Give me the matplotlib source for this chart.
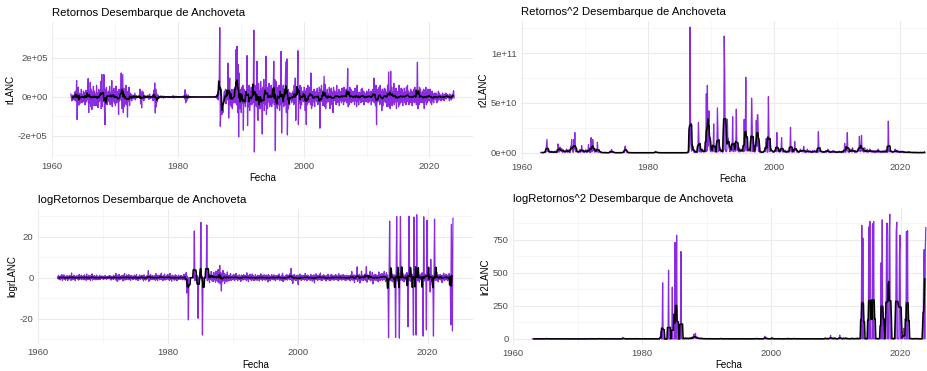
import numpy as np
import pandas as pd
import matplotlib
matplotlib.use("Agg")
import matplotlib.pyplot as plt
from matplotlib.ticker import MultipleLocator, FuncFormatter

plt.rcParams["font.family"] = ["Liberation Sans", "DejaVu Sans"]
plt.rcParams["axes.unicode_minus"] = False

# retornos mensuales del desembarque (en 1e4 t), ene..dic, 1963-2023
rlanc_1e4 = [
    1.5, -0.5, -2.0, 1.0, -1.5, 0.8, -1.0, 2.5, -1.8, 3.0, -2.2, 8.4,      # 1963
    -11.6, 3.5, 5.0, -4.2, 2.0, -3.5, 1.5, -2.0, 4.0, -3.0, 1.2, -2.5,     # 1964
    3.0, -1.5, 2.2, -4.0, 1.0, 3.5, -2.5, 1.8, -1.0, 9.4, -8.0, 2.5,       # 1965
    -3.0, 7.5, -5.0, 4.0, -6.5, 2.5, -2.0, 5.5, -4.5, 3.0, -2.0, 1.5,      # 1966
    -4.5, 6.0, -3.0, 2.0, -5.5, 4.0, -2.5, 3.0, -1.5, 8.0, -6.0, 11.5,     # 1967
    -5.0, 3.5, -2.0, 11.5, -6.0, -14.2, 4.0, -3.0, 5.0, -4.0, 2.5, -1.5,   # 1968
    3.0, -2.5, 5.5, -4.0, 2.0, -3.5, 8.4, -5.0, 3.0, -2.0, 4.5, -3.0,      # 1969
    2.0, -4.5, 5.5, -3.0, 1.5, -2.5, 3.0, -9.0, 4.0, -2.0, 3.5, -1.0,      # 1970
    12.3, -6.0, 3.0, 11.5, -8.0, 4.5, -5.0, 2.0, -3.5, 6.0, -4.0, 2.5,     # 1971
    -10.3, 3.0, -2.0, 5.0, -4.5, 2.0, -1.0, 1.5, -2.0, 1.0, -0.5, 0.8,     # 1972
    -1.0, 0.5, 2.0, -1.5, 0.8, -0.5, 0.3, -0.4, 0.5, -0.3, 0.2, -0.6,      # 1973
    4.0, -3.5, 1.5, -5.6, 3.0, -1.0, 2.5, -2.0, 1.0, -0.8, 0.5, -0.3,      # 1974
    0.5, -0.4, 0.6, -0.5, 0.8, -1.2, 1.5, -0.8, 0.4, -0.6, 0.3, -0.2,      # 1975
    1.0, -2.0, 3.5, -1.5, 7.2, -8.2, 4.0, -5.0, 1.5, -2.5, 1.0, -0.5,      # 1976
    0.3, -0.5, 0.4, -0.2, 0.6, -0.4, 0.2, -0.3, 0.5, -0.6, 0.3, -0.2,      # 1977
    0.2, -0.2, 0.3, -0.1, 0.2, -0.3, 0.1, -0.2, 0.2, -0.1, 0.1, -0.2,      # 1978
    0.3, -0.2, 0.5, -0.4, 0.6, -0.5, 0.2, -0.3, 0.4, -0.2, 0.3, -0.1,      # 1979
    0.2, -0.3, 0.1, -0.1, 0.2, -0.2, 0.1, -0.1, 0.3, -0.2, 0.1, -0.1,      # 1980
    0.5, -1.0, 3.7, -3.0, 1.5, -2.0, 0.8, -0.6, 1.0, -0.5, 0.3, -0.4,      # 1981
    0.2, -0.1, 0.1, -0.2, 0.1, -0.1, 0.05, -0.05, 0.1, -0.1, 0.05, -0.05,  # 1982
    0.02, -0.02, 0.0, 0.0, 0.0, 0.0, 0.0, 0.0, 0.0, 0.0, 0.0, 0.0,         # 1983
    0.0, 0.02, -0.01, 0.01, -0.01, 0.01, -0.01, 0.01, -0.02, 0.0, 0.0, 0.0,  # 1984
    0.0, 0.02, -0.01, 0.01, -0.02, 0.0, 0.0, 0.0, 0.0, 0.0, 0.0, 0.0,      # 1985
    0.1, -0.1, 1.0, -0.8, 2.5, -1.5, 3.5, 9.7, 35.5, -15.0, -8.0, 4.0,     # 1986
    -9.0, -5.0, -8.0, -3.0, 1.5, 3.0, -2.0, 4.0, -3.5, 2.0, -1.5, 3.0,     # 1987
    17.4, -10.8, 3.0, 9.7, -4.0, 2.0, -5.0, 4.0, -6.0, 2.5, -3.0, 4.0,     # 1988
    -3.0, 5.0, -3.0, 24.3, -4.0, 26.0, -8.0, 16.6, -20.5, 12.3, -6.0, 3.0,  # 1989
    4.0, -8.0, 5.0, -3.0, 6.0, -17.0, 4.0, -3.0, 2.5, -5.0, 3.0, -2.0,     # 1990
    21.2, -14.7, 3.0, -5.0, 6.0, -7.0, 3.0, -4.0, 5.0, -4.0, 2.0, -3.0,    # 1991
    5.0, 34.2, -28.2, 6.0, -4.0, 3.0, -5.0, 18.3, -10.0, -12.0, 7.0, -6.0,  # 1992
    3.0, -6.0, 8.0, -5.0, 4.0, -19.0, 5.0, -3.0, 9.0, -7.0, 4.0, -4.0,     # 1993
    20.9, -9.0, 5.0, -6.0, 3.5, -2.5, 7.0, -5.0, 3.0, -4.0, 6.0, -5.0,     # 1994
    4.0, -3.0, 4.0, 18.3, -4.0, 9.0, -27.5, 8.0, -5.0, 4.0, -6.0, 5.0,     # 1995
    -4.0, 6.0, -7.0, 3.0, -4.0, 23.4, -18.5, 4.0, -3.0, 6.0, -5.0, 2.5,    # 1996
    -4.0, 6.0, 18.0, -8.0, 19.5, -19.5, 4.0, -6.0, 2.5, -4.0, 2.0, -1.5,   # 1997
    2.0, -3.0, 1.5, -2.0, 3.0, -4.0, 6.0, -3.0, 9.7, -12.0, 5.0, 2.0,      # 1998
    3.0, 23.7, -14.2, 4.0, -3.0, 6.0, -6.0, 5.0, -4.0, 2.5, -2.0, 3.0,     # 1999
    -2.5, 5.0, 4.0, -7.0, 3.0, -14.2, 4.5, -4.0, 6.0, -3.0, 2.0, -2.5,     # 2000
    5.0, -4.0, 12.3, -6.0, 2.5, -4.5, 3.0, -2.5, 4.0, -5.0, 2.0, -1.5,     # 2001
    3.0, -2.5, 4.5, -4.0, 2.0, -3.0, 5.0, -16.0, 4.0, -2.5, 6.0, -2.0,     # 2002
    3.0, -4.5, 2.5, 10.6, -5.0, 6.5, -6.0, 2.5, -3.0, 4.0, -2.0, 1.5,      # 2003
    -2.5, 5.0, -6.0, 4.0, -3.0, 4.5, -4.0, 2.5, -8.0, 5.0, -2.0, 3.0,      # 2004
    -2.0, 2.5, -4.0, 6.0, -3.0, 2.0, -2.5, 4.0, -4.5, 3.0, -1.5, 2.0,      # 2005
    -3.0, 4.5, -2.0, 2.5, -4.0, 5.0, -2.5, 3.0, -2.0, 4.0, -3.0, 1.5,      # 2006
    14.5, -5.0, 3.0, -4.0, 5.0, -2.5, 4.0, -3.0, 2.0, -2.5, 3.0, -2.0,     # 2007
    2.5, -4.0, 4.5, -2.0, 3.0, -5.0, 6.0, -2.5, 2.0, -4.0, 2.5, -1.5,      # 2008
    2.0, -3.0, 4.0, -2.5, 4.5, -2.0, 3.0, -4.0, 2.5, -2.0, 1.5, -2.5,      # 2009
    3.0, -2.0, 2.5, -3.0, 4.0, -2.5, 2.0, -1.5, 3.0, -4.0, 2.5, -2.0,      # 2010
    4.0, -2.5, 9.7, -3.0, 2.0, -4.5, 6.0, -14.2, 4.0, -2.5, 3.0, -2.0,     # 2011
    5.0, -4.0, 6.0, -3.0, 2.5, -7.0, 4.0, -4.5, 3.0, -2.0, 4.5, -2.5,      # 2012
    4.0, -3.0, 2.5, -5.0, 6.0, -4.0, 12.8, -5.0, 3.0, -6.0, 13.2, -4.0,    # 2013
    5.0, -4.5, 2.5, -3.0, 7.0, -4.0, 3.0, -2.5, 4.5, -6.0, 2.5, -2.0,      # 2014
    3.0, -5.0, 6.0, -4.0, 2.5, -3.0, 4.5, -2.5, 4.0, -4.5, 2.0, -1.5,      # 2015
    4.5, -3.0, 2.5, -4.0, 5.0, -2.0, 6.0, -2.5, 3.0, -4.0, 2.0, -3.0,      # 2016
    4.0, -2.5, 3.0, -4.5, 2.5, -2.0, 4.0, -3.0, 5.0, -2.5, 2.0, -4.0,      # 2017
    2.5, 17.8, -6.0, 3.0, -4.0, 5.0, -2.5, 4.0, -3.0, 2.0, -2.5, 3.0,      # 2018
    -3.0, 4.0, -6.0, 3.0, -2.0, 5.0, -4.0, 2.0, -3.0, 4.0, -2.0, 3.0,      # 2019
    -2.0, 4.0, -3.0, 2.0, -4.0, 3.0, -2.0, 1.5, -3.0, 2.0, -1.0, 2.0,      # 2020
    -1.5, 2.0, -3.0, 1.0, -2.0, 3.0, -1.0, 2.0, -1.5, 1.0, -2.0, 1.0,      # 2021
    -1.0, 2.0, -1.5, 1.0, -2.0, 1.5, -1.0, 2.0, -1.0, 1.5, -0.5, 1.0,      # 2022
    -0.5, 1.0, -2.0, 1.5, -1.0, 0.5, -1.5, 1.0, -0.5, 2.0, 3.2, -0.5,      # 2023
]

# log-retornos mensuales, ene..dic, 1963-2023
logrlanc = [
    0.3, -0.5, 1.2, -0.8, 0.6, -1.1, 0.9, -0.4, 1.5, -1.3, 0.7, -0.6,      # 1963
    1.4, -0.9, 0.5, -1.2, 0.8, -0.3, 1.0, -1.4, 0.6, -0.7, 1.1, -0.5,      # 1964
    0.8, -1.3, 2.3, -1.0, 0.4, -0.8, 1.2, -0.6, 0.9, -1.5, 0.5, -0.3,      # 1965
    1.0, -0.7, 0.6, -1.2, 1.6, -0.9, 0.3, -0.5, 1.3, -1.0, 0.7, -0.4,      # 1966
    0.9, -1.1, 1.4, -0.6, 0.5, -1.3, 1.8, -0.8, 0.4, -0.9, 1.2, -0.7,      # 1967
    0.6, -1.4, 1.1, -0.5, 1.9, -1.2, 0.7, -0.6, 1.0, -0.8, 0.5, -1.1,      # 1968
    1.3, -0.6, 0.8, -1.0, 0.5, -0.7, 1.2, -0.9, 0.6, -0.4, 0.9, -0.5,      # 1969
    0.7, -0.9, 0.5, -0.6, 1.1, -0.5, 0.4, -0.8, 0.6, -0.3, 0.8, -0.6,      # 1970
    1.0, -0.5, 0.9, -1.2, 0.6, -0.4, 0.7, -0.9, 1.2, -0.6, 0.5, -0.7,      # 1971
    2.1, -1.5, 0.8, -1.8, 1.2, -0.9, 1.6, -1.1, 0.6, -0.8, 1.0, -0.5,      # 1972
    0.9, -1.6, 1.3, -0.7, 2.0, -1.2, 0.5, -0.9, 1.4, -0.6, 0.8, -1.0,      # 1973
    1.5, -0.8, 0.6, -1.3, 1.1, -0.5, 0.9, -1.0, 0.4, -0.7, 1.2, -0.6,      # 1974
    0.8, -1.1, 1.6, -0.9, 0.5, -1.4, 0.7, -0.6, 1.3, -0.8, 0.6, -0.5,      # 1975
    1.2, -0.7, 0.9, -1.6, 1.4, -0.8, 0.5, -1.2, 0.7, -0.9, 1.0, -0.4,      # 1976
    3.4, -1.8, 0.9, -1.2, 1.5, -0.6, 0.8, -1.0, 1.1, -0.7, 0.6, -0.9,      # 1977
    1.0, -1.3, 2.0, -0.8, 0.6, -1.5, 1.2, -0.5, 0.8, -1.1, 1.4, -0.7,      # 1978
    2.2, -0.9, 0.7, -1.4, 1.0, -0.6, 1.8, -1.2, 0.5, -0.8, 1.1, -0.6,      # 1979
    1.6, -1.0, 0.8, -1.3, 2.1, -0.9, 0.6, -1.7, 1.2, -0.5, 0.9, -1.1,      # 1980
    0.8, -1.2, 1.4, -0.6, 1.0, -1.5, 0.7, -0.9, 1.3, -0.7, 0.5, -0.8,      # 1981
    1.1, -0.6, 0.9, -1.0, 0.6, -0.8, 1.7, -1.1, 0.5, -0.9, 2.5, -7.5,      # 1982
    0.8, -0.5, -20.6, 0.0, 0.0, 0.0, 0.0, 0.0, 0.0, 0.0, 0.0, 0.0,         # 1983
    0.0, 22.8, -1.5, 1.0, -0.8, 1.2, -0.6, 0.9, -19.8, 0.0, 0.0, 0.0,      # 1984
    0.0, 27.0, -1.2, 0.8, -28.0, 0.0, 0.0, 0.0, 0.0, 0.0, 0.0, 0.0,        # 1985
    25.7, -1.5, 2.2, -1.0, 1.8, -2.4, 1.2, -0.8, 3.0, 2.5, -1.6, 1.0,      # 1986
    -1.8, 2.6, -1.0, 1.5, -2.2, 3.2, -1.4, 0.9, -2.0, 4.0, -2.5, 1.2,      # 1987
    6.0, -3.0, 2.5, -6.5, 1.8, -2.0, 3.5, -1.5, 2.2, -2.8, 1.6, -1.2,      # 1988
    1.5, -2.0, 2.8, -1.2, 0.9, -1.6, 1.3, -0.8, 2.0, -1.4, 0.7, -1.0,      # 1989
    1.2, -0.9, 1.6, -1.3, 0.8, -1.1, 2.1, -0.7, 1.0, -1.5, 0.6, -0.9,      # 1990
    1.4, -1.0, 0.7, -1.8, 1.3, -0.6, 0.9, -1.2, 1.5, -0.8, 1.1, -0.7,      # 1991
    0.9, -1.3, 2.4, -1.0, 1.2, -1.9, 0.8, -0.6, 1.7, -1.1, 0.6, -1.4,      # 1992
    1.8, -0.8, 1.0, -1.4, 0.7, -1.2, 1.5, -0.9, 0.6, -1.3, 1.2, -0.5,      # 1993
    1.1, -1.6, 0.9, -0.7, 1.9, -1.0, 0.6, -1.3, 1.2, -0.8, 1.4, -1.1,      # 1994
    0.8, -1.2, 1.3, -0.9, 1.0, -2.1, 1.6, -0.7, 0.9, -1.5, 0.7, -0.6,      # 1995
    1.5, -0.9, 0.7, -1.1, 1.4, -0.8, 1.0, -1.6, 0.8, -0.6, 1.1, -0.9,      # 1996
    1.2, -0.7, 1.8, -1.3, 0.6, -1.0, 0.9, -1.4, 2.2, -1.9, 0.8, -1.2,      # 1997
    0.7, -1.1, 1.0, -0.8, 1.5, -1.2, 0.9, -0.6, 1.3, -1.0, 2.0, -0.9,      # 1998
    4.5, -1.5, 1.1, -2.8, 1.3, -0.9, 1.6, -1.2, 0.8, -1.4, 1.0, -0.7,      # 1999
    1.3, -3.4, 1.0, -0.9, 1.8, -1.1, 0.7, -1.3, 1.2, -0.8, 0.9, -1.0,      # 2000
    1.0, -1.2, 2.1, -0.8, 0.9, -1.5, 1.3, -0.7, 1.1, -1.0, 0.6, -1.3,      # 2001
    1.6, -0.9, 1.2, -1.7, 0.8, -1.1, 1.4, -2.6, 1.0, -0.8, 1.9, -1.0,      # 2002
    1.1, -1.3, 0.9, -0.7, 1.5, -1.0, 2.3, -1.2, 0.7, -1.4, 1.0, -0.6,      # 2003
    1.4, -0.8, 1.1, -1.2, 0.7, -1.6, 1.0, -0.9, 1.7, -1.1, 0.8, -1.3,      # 2004
    0.9, -1.4, 1.6, -0.9, 1.2, -0.7, 0.8, -1.3, 1.1, -0.8, 1.5, -1.0,      # 2005
    1.2, -1.0, 0.8, -1.5, 1.9, -1.1, 0.9, -0.7, 1.3, -1.2, 0.7, -1.0,      # 2006
    1.5, -0.9, 1.1, -1.2, 0.8, -1.4, 1.2, -0.8, 1.0, -1.1, 0.9, -0.7,      # 2007
    1.0, -1.6, 1.3, -0.8, 3.0, -1.2, 0.9, -1.1, 1.4, -2.4, 1.1, -0.9,      # 2008
    1.3, -1.0, 5.3, -1.8, 1.1, -0.9, 1.6, -2.6, 1.0, -1.2, 3.2, -1.1,      # 2009
    1.2, -1.4, 1.0, -0.8, 1.7, -1.3, 1.1, 5.4, -2.2, 1.3, -1.0, 0.8,       # 2010
    1.4, -1.1, 3.1, -1.6, 1.0, -0.9, 2.6, -3.0, 1.2, -1.0, 1.5, -1.3,      # 2011
    1.6, -1.0, 1.2, -1.5, 0.9, -2.0, 2.8, -1.2, 1.1, -1.4, 1.8, -0.9,      # 2012
    2.0, -1.3, 1.4, -0.8, 3.0, -1.1, 1.2, -1.9, 2.4, -1.0, 1.3, -2.2,      # 2013
    -29.3, 0.0, 27.6, -1.5, 2.0, -1.2, 1.8, -2.0, 1.1, -0.9, 1.4, -1.0,    # 2014
    1.2, -29.1, 0.0, 29.8, -1.6, 1.3, -1.1, 2.0, -29.5, 0.0, 29.8, -1.2,   # 2015
    1.5, -1.0, 2.2, -1.6, 1.1, -2.0, 1.3, -0.9, 1.8, -1.3, 2.5, -1.1,      # 2016
    -24.0, 0.0, 30.0, -1.4, 1.2, -1.8, 2.1, -1.0, 1.5, -1.2, -28.0, 29.6,  # 2017
    -1.3, 1.6, -1.0, -28.0, 30.7, -1.5, 1.9, -1.2, 1.4, -2.2, 1.0, -0.8,   # 2018
    1.7, -1.4, 2.4, -1.1, -28.5, 29.7, -1.6, 1.2, -0.9, 1.8, -25.5, 28.0,  # 2019
    1.2, -1.4, 2.0, -1.0, 1.5, -7.0, 9.0, -1.8, 1.3, -1.1, 0.9, -28.5,     # 2020
    0.0, 28.6, -1.3, 1.8, -1.0, 2.6, -1.5, 1.1, -2.0, 1.4, -0.9, 1.2,      # 2021
    1.6, -1.2, 0.9, -2.4, 1.3, -0.8, 2.2, -1.5, 1.0, -1.1, 1.7, -0.9,      # 2022
    1.3, -1.5, 0.8, -1.0, 2.0, -1.3, 0.9, -23.0, 26.0, -1.0, -26.0, 29.0,  # 2023
]

rlanc = np.array(rlanc_1e4) * 1e4
logr = np.array(logrlanc)
fecha = 1963 + np.arange(len(rlanc)) / 12

series = [
    ("Retornos Desembarque de Anchoveta", "rLANC", rlanc),
    ("Retornos^2 Desembarque de Anchoveta", "r2LANC", rlanc ** 2),
    ("logRetornos Desembarque de Anchoveta", "logrLANC", logr),
    ("logRetornos^2 Desembarque de Anchoveta", "lr2LANC", logr ** 2),
]

# cajas de cada panel en pixeles (x0, x1, y0, y1)
W, H = 927, 371
cajas = [
    (51.7, 473.3, 21.5, 158.2),
    (521.4, 944.4, 20.8, 159.0),
    (37.7, 472.7, 208.6, 344.3),
    (512.7, 945.5, 208.0, 345.2),
]
mayores = [2e5, 5e10, 20, 250]


def sci(v, pos):
    return "%.0e" % v


fig = plt.figure(figsize=(W / 100, H / 100), dpi=100)
for (titulo, ylab, y), (x0, x1, y0, y1), paso in zip(series, cajas, mayores):
    ax = fig.add_axes([x0 / W, 1 - y1 / H, (x1 - x0) / W, (y1 - y0) / H])
    ax.plot(fecha, y, color="#8a2be2", lw=0.9)
    # media movil centrada de 6 meses
    suave = pd.Series(y).rolling(6, center=True).mean()
    ax.plot(fecha, suave, color="black", lw=1.1)
    ax.margins(0.05)

    ax.xaxis.set_major_locator(MultipleLocator(20))
    ax.xaxis.set_minor_locator(MultipleLocator(10))
    ax.yaxis.set_major_locator(MultipleLocator(paso))
    ax.yaxis.set_minor_locator(MultipleLocator(paso / 2))
    if paso in (2e5, 5e10):
        ax.yaxis.set_major_formatter(FuncFormatter(sci))
    ax.grid(which="major", color="#ebebeb", lw=0.8)
    ax.grid(which="minor", color="#f3f3f3", lw=0.5)
    ax.set_axisbelow(True)
    for s in ax.spines.values():
        s.set_visible(False)
    ax.tick_params(which="both", length=0, labelsize=6.8, colors="#4d4d4d", pad=3)

    ax.set_title(titulo, loc="left", fontsize=8.2, pad=4)
    ax.set_xlabel("Fecha", fontsize=7, labelpad=1.5)
    ax.set_ylabel(ylab, fontsize=7, labelpad=2)

fig.savefig("out.png", dpi=100, facecolor="white")
